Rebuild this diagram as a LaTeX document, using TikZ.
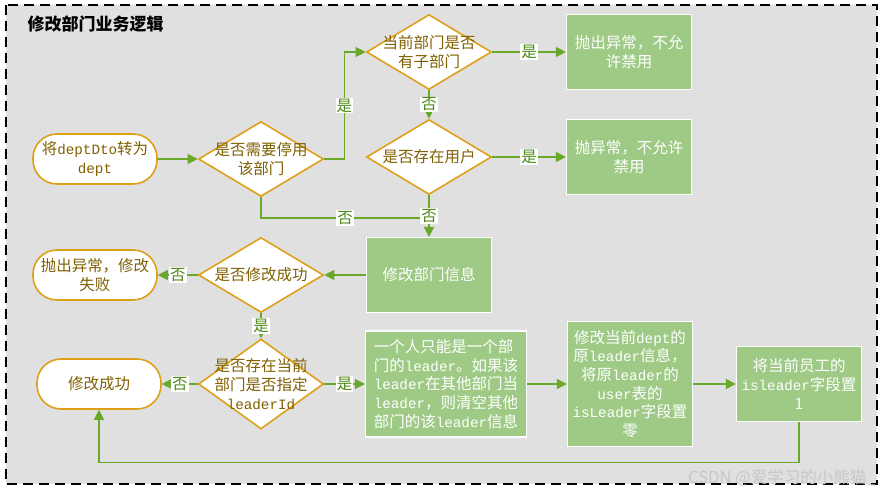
\documentclass[tikz,border=0pt]{standalone}
\usepackage{fontspec}
\setmainfont{Noto Sans CJK SC}
\newfontfamily\latmono[Scale=0.92]{Liberation Mono}
\newcommand{\en}[1]{{\latmono #1}}
\usetikzlibrary{shapes.geometric,arrows.meta}
\definecolor{bggray}{RGB}{224,224,224}
\definecolor{lineorange}{RGB}{222,160,24}
\definecolor{textbrown}{RGB}{128,96,0}
\definecolor{boxgreen}{RGB}{158,202,134}
\definecolor{flowgreen}{RGB}{106,168,42}
\definecolor{labelgreen}{RGB}{76,136,20}

\begin{document}
\begin{tikzpicture}[x=1pt, y=-1pt,
    every node/.style={font=\fontsize{15.5}{18.6}\selectfont},
    terminal/.style={draw=lineorange, line width=1.6pt, fill=white, rounded corners=24pt,
        minimum width=124pt, minimum height=50pt, text=textbrown, align=center, inner sep=0pt},
    decision/.style={diamond, draw=lineorange, line width=1.6pt, fill=white,
        minimum width=125pt, minimum height=75pt, inner sep=0pt},
    dtext/.style={text=textbrown, align=center, inner sep=0pt},
    process/.style={rectangle, draw=white, line width=1.2pt, fill=boxgreen, text=white,
        align=center, minimum width=125pt, minimum height=75pt, inner sep=2pt},
    flow/.style={draw=flowgreen, line width=1.1pt, -{Triangle[length=10pt,width=10pt]}},
    elabel/.style={fill=white, text=labelgreen, inner sep=1pt}
]
    \useasboundingbox (0,0) rectangle (884,494);
    \fill[white] (0,0) rectangle (884,494);
    % frame and title
        \draw[black, line width=1.8pt, dash pattern=on 10pt off 6pt, fill=bggray] (6,5) rectangle (877,484);
        \node[font=\fontsize{17}{19}\selectfont\bfseries, anchor=west] (title) at (24,24) {修改部门业务逻辑};

    % first row: disable checks
        \node[terminal] (start) at (95,159) {将\en{deptDto}转为\\\en{dept}};
        \node[decision, label={[dtext]center:{是否需要停用\\该部门}}] (stop) at (261,159) {};
        \node[decision, label={[dtext]center:{当前部门是否\\有子部门}}] (haschild) at (429,52) {};
        \node[decision, label={[dtext]center:{是否存在用户}}] (hasuser) at (429,157) {};
        \node[process] (errchild) at (629,52) {抛出异常，不允\\许禁用};
        \node[process] (erruser) at (629,157) {抛异常，不允许\\禁用};

    % update and result
        \node[process] (update) at (429,275) {修改部门信息};
        \node[decision, label={[dtext]center:{是否修改成功}}] (chkok) at (261,275) {};
        \node[terminal] (fail) at (95,275) {抛出异常，修改\\失败};

    % leader handling
        \node[decision, minimum height=90pt, label={[dtext]center:{是否存在当前\\部门是否指定\\\en{leaderId}}}] (hasleader) at (261,384) {};
        \node[terminal] (done) at (99,384) {修改成功};
        \node[process, minimum width=161pt, minimum height=106pt, align=left] (clear) at (446,384)
            {一个人只能是一个部\\门的\en{leader}。如果该\\\en{leader}在其他部门当\\\en{leader}，则清空其他\\部门的该\en{leader}信息};
        \node[process, minimum height=125pt] (reset) at (630,384)
            {修改当前\en{dept}的\\原\en{leader}信息，\\将原\en{leader}的\\\en{user}表的\\\en{isLeader}字段置\\零};
        \node[process] (setnew) at (799,384) {将当前员工的\\\en{isleader}字段置\\1};

    % connectors
        \draw[flow] (start.east) -- (stop.west);
        \draw[flow] (stop.east) -- ++(20,0) |- node[elabel, pos=0.25]{是} (haschild.west);
        \draw[flow] (haschild.east) -- node[elabel]{是} (errchild.west);
        \draw[flow] (haschild.south) -- node[elabel]{否} (hasuser.north);
        \draw[flow] (hasuser.east) -- node[elabel]{是} (erruser.west);
        \coordinate (merge) at (429,218);
        \draw[flow, -] (stop.south) |- node[elabel, pos=0.75]{否} (merge);
        \draw[flow] (hasuser.south) -- node[elabel]{否} (update.north);
        \draw[flow] (update.west) -- (chkok.east);
        \draw[flow] (chkok.west) -- node[elabel]{否} (fail.east);
        \draw[flow] (chkok.south) -- node[elabel]{是} (hasleader.north);
        \draw[flow] (hasleader.west) -- node[elabel]{否} (done.east);
        \draw[flow] (hasleader.east) -- node[elabel]{是} (clear.west);
        \draw[flow] (clear.east) -- (reset.west);
        \draw[flow] (reset.east) -- (setnew.west);
        \draw[flow] (setnew.south) -- ++(0,40) -| (done.south);

    % watermark
        \node[anchor=east, text=black!22, font=\fontsize{16.5}{19}\selectfont] (mark) at (879,478) {CSDN @爱学习的小熊猫\_};
\end{tikzpicture}
\end{document}
